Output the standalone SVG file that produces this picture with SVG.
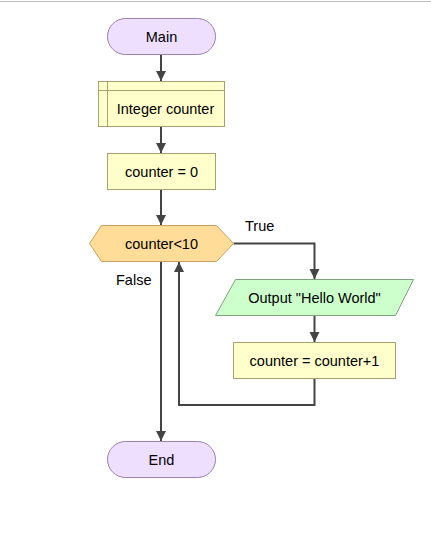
<svg xmlns="http://www.w3.org/2000/svg" width="431" height="542" viewBox="0 0 431 542">
<style>
text{font-family:"Liberation Sans",Arial,sans-serif;font-size:14.5px;fill:#000;}
.c{text-anchor:middle;dominant-baseline:central;}
.term{fill:#eedfff;stroke:#9c80b0;stroke-width:1;}
.proc{fill:#ffffcc;stroke:#a8a070;stroke-width:1;}
.dec{fill:#ffdd99;stroke:#c8a060;stroke-width:1;}
.io{fill:#ccffcc;stroke:#80a080;stroke-width:1;}
.edge{fill:none;stroke:#444;stroke-width:2;}
</style>
<defs>
<marker id="ah" markerUnits="userSpaceOnUse" markerWidth="12" markerHeight="12" viewBox="0 0 12 12" refX="10" refY="6" orient="auto">
<path d="M0,1 L10,6 L0,11 Z" fill="#444"/>
</marker>
</defs>
<line x1="0" y1="1.5" x2="431" y2="1.5" stroke="#c0c0c0" stroke-width="1"/>
<g id="connectors">
<path class="edge" d="M161,54.5 V81" marker-end="url(#ah)"/>
<path class="edge" d="M161,126.5 V153" marker-end="url(#ah)"/>
<path class="edge" d="M161,189.5 V225" marker-end="url(#ah)"/>
<path class="edge" d="M233.5,243.5 H314.5 V279" marker-end="url(#ah)"/>
<path class="edge" d="M314.5,315.5 V342" marker-end="url(#ah)"/>
<path class="edge" d="M314.5,378.5 V405 H179 V262" marker-end="url(#ah)"/>
<path class="edge" d="M161,261.5 V441" marker-end="url(#ah)"/>
<text x="245" y="231">True</text>
<text x="116" y="285">False</text>
</g>
<g id="main">
<rect class="term" x="107.5" y="18.5" width="108" height="36" rx="18"/>
<text class="c" x="161.5" y="36.5">Main</text>
</g>
<g id="declare">
<rect class="proc" x="98.5" y="81.5" width="126" height="45"/>
<line x1="107.5" y1="81.5" x2="107.5" y2="126.5" stroke="#a8a070"/>
<line x1="98.5" y1="90.5" x2="224.5" y2="90.5" stroke="#a8a070"/>
<text class="c" x="165.5" y="109">Integer counter</text>
</g>
<g id="assign0">
<rect class="proc" x="107.5" y="153.5" width="108" height="36"/>
<text class="c" x="161.5" y="171.5">counter = 0</text>
</g>
<g id="decision">
<polygon class="dec" points="89.5,243.5 101.5,225.5 216.5,225.5 233.5,243.5 216.5,261.5 101.5,261.5"/>
<text class="c" x="161.5" y="243.5">counter&lt;10</text>
</g>
<g id="output">
<polygon class="io" points="235.5,279.5 413.5,279.5 395.5,315.5 215.5,315.5"/>
<text class="c" x="314.5" y="297.5">Output "Hello World"</text>
</g>
<g id="increment">
<rect class="proc" x="233.5" y="342.5" width="162" height="36"/>
<text class="c" x="314.5" y="360.5">counter = counter+1</text>
</g>
<g id="end">
<rect class="term" x="107.5" y="441.5" width="108" height="36" rx="18"/>
<text class="c" x="161.5" y="459.5">End</text>
</g>
</svg>
